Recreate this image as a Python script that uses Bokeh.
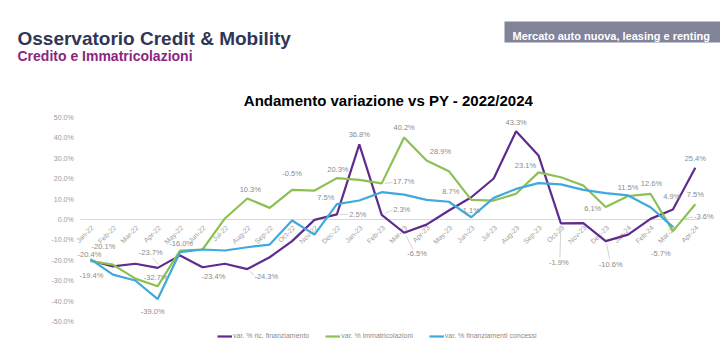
import math
from bokeh.plotting import figure
from bokeh.models import ColumnDataSource, Range1d, Label, BoxAnnotation, Legend, LegendItem
from bokeh.core.properties import value
from bokeh.embed import file_html
from bokeh.resources import INLINE

# ---------------- data ----------------
months = ["Jan-22", "Feb-22", "Mar-22", "Apr-22", "May-22", "Jun-22", "Jul-22", "Aug-22",
          "Sep-22", "Oct-22", "Nov-22", "Dec-22", "Jan-23", "Feb-23", "Mar-23", "Apr-23",
          "May-23", "Jun-23", "Jul-23", "Aug-23", "Sep-23", "Oct-23", "Nov-23", "Dec-23",
          "Jan-24", "Feb-24", "Mar-24", "Apr-24"]

ric_finanziamento = [-20.1, -23.0, -21.7, -23.7, -17.6, -23.4, -21.7, -24.3,
                     -18.5, -10.6, -0.2, 2.5, 36.8, 2.3, -6.5, -2.5,
                     4.4, 10.9, 20.1, 43.3, 31.4, -1.9, -1.8, -10.6,
                     -7.4, 0.3, 4.9, 25.4]

immatricolazioni = [-20.4, -22.1, -29.0, -32.7, -15.2, -14.7, 0.5, 10.3,
                    5.7, 14.5, 14.2, 20.3, 19.4, 17.7, 40.2, 28.9,
                    23.7, 9.6, 9.3, 12.6, 23.1, 20.7, 16.7, 6.1,
                    11.5, 12.6, -5.7, 7.5]

finanziamenti_concessi = [-19.4, -27.0, -29.9, -39.0, -16.0, -14.7, -15.2, -13.6,
                          -12.3, -0.5, -7.4, 7.5, 9.3, 13.4, 12.2, 9.6,
                          8.7, 1.1, 10.6, 15.0, 17.8, 17.2, 14.5, 12.9,
                          11.8, 6.0, -3.6, float("nan")]

y_ticks = [-50, -40, -30, -20, -10, 0, 10, 20, 30, 40, 50]

series_names = ["var. % ric. finanziamento", "var. % immatricolazioni", "var. % finanziamenti concessi"]
series_colors = ["#5f2b8c", "#8cc152", "#3fa9dd"]

# which points carry a data label: (series, month index, dx px, dy px)
label_points = [
    ("c", 0, 1, 16), ("i", 0, -1, -7), ("r", 0, 13, -14),
    ("r", 3, -7, -15), ("i", 3, -2, -9), ("c", 3, -5, 12),
    ("c", 4, 1, -9), ("r", 5, 11, 9), ("i", 7, 3, -9), ("r", 7, 19, 7),
    ("c", 9, 0, -47), ("c", 11, -11, -7), ("i", 11, 1, -9), ("r", 11, 21, 0),
    ("r", 12, 0, -10), ("i", 13, 22, -2), ("r", 13, 20, -5),
    ("i", 14, 0, -10), ("r", 14, 13, 21), ("i", 15, 14, -9),
    ("c", 16, 2, -10), ("c", 17, 0, -7), ("r", 19, 0, -9), ("i", 20, -13, -7),
    ("r", 21, -2, 39), ("i", 23, -13, 1), ("r", 23, 5, 23),
    ("i", 24, 0, -9), ("i", 25, 1, -10), ("r", 26, -1, -13), ("i", 26, -12, 22),
    ("c", 26, 31, -10), ("r", 27, 0, -9), ("i", 27, 0, -10),
]

# leader lines from a point towards its label: (series, month index, start dx, dy, end dx, dy) in px
leader_lines = [
    ("r", 3, 1, -3, -5, -10), ("r", 7, 2, 2, 7, 6), ("r", 11, 3, 0, 11, 0),
    ("i", 13, 3, 0, 11, -1), ("r", 13, 3, -1, 11, -5), ("r", 14, 2, 3, 9, 17),
    ("r", 21, 0, 3, -1, 34), ("r", 23, 1, 3, 4, 18), ("c", 26, 12, -8, 20, -10),
]

# ---------------- layout ----------------
W, H = 720, 339
X0_PX, DX_PX = 90.0, 22.4      # pixel of first month, pixel step
ZERO_PX, PCT_PX = 219.0, 2.04  # pixel of 0 %, pixels per 1 %
FONT = "Liberation Sans"
GRAY = "#8c8c8c"

p = figure(width=W, height=H, output_backend="svg", toolbar_location=None,
           x_axis_type=None, y_axis_type=None, min_border=0,
           x_range=Range1d(-X0_PX / DX_PX, (W - X0_PX) / DX_PX),
           y_range=Range1d(-(H - ZERO_PX) / PCT_PX, ZERO_PX / PCT_PX),
           outline_line_color=None, background_fill_color="white",
           border_fill_color="white")
p.grid.visible = False

idx = list(range(len(months)))

# zero line
p.line([-0.45, len(months) - 0.8], [0, 0], line_color="#d9d9d9", line_width=1)

# y tick labels
p.text(x=[-0.75] * len(y_ticks), y=y_ticks, text=[f"{t:.1f}%" for t in y_ticks],
       text_font=value(FONT), text_font_size=value("7px"), text_color="#9a9a9a",
       text_align="right", text_baseline="middle")

# x tick labels (rotated, at the 0 line)
p.text(x=idx, y=[0] * len(idx), text=months, angle=math.pi / 4,
       text_font=value(FONT), text_font_size=value("7px"), text_color="#a0a0a0",
       text_align="right", text_baseline="middle", x_offset=2, y_offset=7)

series_data = {"r": ric_finanziamento, "i": immatricolazioni, "c": finanziamenti_concessi}

# leader lines
sx0, sy0, sx1, sy1 = [], [], [], []
for key, i, ax, ay, bx, by in leader_lines:
    v = series_data[key][i]
    sx0.append(i + ax / DX_PX); sy0.append(v - ay / PCT_PX)
    sx1.append(i + bx / DX_PX); sy1.append(v - by / PCT_PX)
p.segment(x0=sx0, y0=sy0, x1=sx1, y1=sy1, line_color="#c8c8c8", line_width=0.8)

# series lines
renderers = []
for key, name, color in zip(["r", "i", "c"], series_names, series_colors):
    src = ColumnDataSource(dict(x=idx, y=series_data[key]))
    r = p.line("x", "y", source=src, line_color=color, line_width=2.2)
    renderers.append(r)

# data labels
lx, ly, lt, ldx, ldy = [], [], [], [], []
for key, i, dx, dy in label_points:
    v = series_data[key][i]
    if v != v:
        continue
    lx.append(i); ly.append(v); lt.append(f"{v:.1f}%"); ldx.append(dx); ldy.append(dy)
lsrc = ColumnDataSource(dict(x=lx, y=ly, text=lt, dx=ldx, dy=ldy))
p.text(x="x", y="y", text="text", source=lsrc, x_offset="dx", y_offset="dy",
       text_font=value(FONT), text_font_size=value("7.5px"), text_color=GRAY,
       text_align="center", text_baseline="middle")

# legend
legend = Legend(items=[LegendItem(label=n, renderers=[r]) for n, r in zip(series_names, renderers)],
                orientation="horizontal", location=(217, 0),
                glyph_width=15, glyph_height=6, label_height=6, label_standoff=1,
                spacing=16, padding=0, margin=0, border_line_color=None,
                background_fill_alpha=0, label_text_font=FONT,
                label_text_font_size="7px", label_text_color=GRAY)
p.add_layout(legend)

# titles
p.add_layout(Label(x=17, y=H - 38, x_units="screen", y_units="screen",
                   text="Osservatorio Credit & Mobility", text_font=FONT,
                   text_font_size="19px", text_font_style="bold", text_color="#2f3656",
                   text_baseline="alphabetic"))
p.add_layout(Label(x=17, y=H - 55, x_units="screen", y_units="screen",
                   text="Credito e Immatricolazioni", text_font=FONT,
                   text_font_size="14px", text_font_style="bold", text_color="#8b2582",
                   text_baseline="alphabetic"))
p.add_layout(BoxAnnotation(left=504, right=720, bottom=H - 42, top=H - 21,
                           left_units="screen", right_units="screen",
                           top_units="screen", bottom_units="screen",
                           fill_color="#80839a", fill_alpha=1, line_color=None))
p.add_layout(Label(x=512, y=H - 35, x_units="screen", y_units="screen",
                   text="Mercato auto nuova, leasing e renting", text_font=FONT,
                   text_font_size="11px", text_font_style="bold", text_color="white",
                   text_baseline="alphabetic"))
p.add_layout(Label(x=388, y=H - 100, x_units="screen", y_units="screen",
                   text="Andamento variazione vs PY - 2022/2024", text_font=FONT,
                   text_font_size="15px", text_font_style="bold", text_color="black",
                   text_align="center", text_baseline="middle"))

open("out.html", "w").write(file_html(p, INLINE))
